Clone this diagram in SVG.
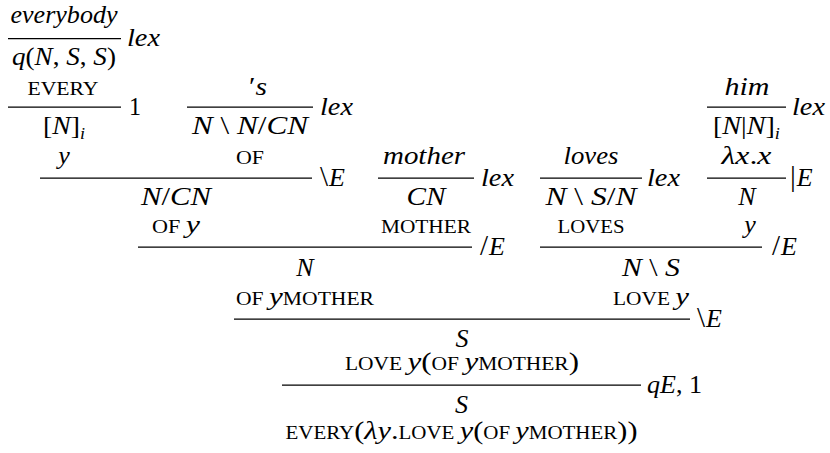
<svg xmlns="http://www.w3.org/2000/svg" width="830" height="453" viewBox="0 0 830 453">
<style>
text{font-family:"Liberation Serif","DejaVu Serif",serif;font-size:26px;font-style:italic;fill:#000;text-anchor:middle}
.l{text-anchor:start}
.u{font-style:normal}
.b{font-style:normal;font-size:29px}
.sc{font-style:normal;font-size:18px}
.s{font-size:17px}
#rules line{stroke:#000;stroke-width:1.25}
</style>
<rect width="830" height="453" fill="#fff"/>
<g id="rules">
<line x1="8" y1="38.5" x2="121" y2="38.5"/>
<text class="l" x="127" y="46" textLength="33" lengthAdjust="spacingAndGlyphs">lex</text>
<line x1="8" y1="107" x2="121" y2="107"/>
<text class="l u" x="129" y="114.5" textLength="12" lengthAdjust="spacingAndGlyphs">1</text>
<line x1="187" y1="107" x2="313" y2="107"/>
<text class="l" x="320" y="114.5" textLength="33" lengthAdjust="spacingAndGlyphs">lex</text>
<line x1="707" y1="107" x2="786" y2="107"/>
<text class="l" x="792" y="114.5" textLength="33" lengthAdjust="spacingAndGlyphs">lex</text>
<line x1="40" y1="178" x2="312" y2="178"/>
<text class="l" x="320" y="186"><tspan class="b">\</tspan><tspan dx="1">E</tspan></text>
<line x1="378" y1="178" x2="474" y2="178"/>
<text class="l" x="481" y="185.5" textLength="33" lengthAdjust="spacingAndGlyphs">lex</text>
<line x1="540" y1="178" x2="642" y2="178"/>
<text class="l" x="647" y="185.5" textLength="33" lengthAdjust="spacingAndGlyphs">lex</text>
<line x1="707" y1="178" x2="786" y2="178"/>
<text class="l" x="790" y="186"><tspan class="b">|</tspan><tspan dx="1">E</tspan></text>
<line x1="138" y1="247" x2="472" y2="247"/>
<text class="l" x="480" y="255"><tspan class="b">/</tspan><tspan dx="1">E</tspan></text>
<line x1="540" y1="247" x2="762" y2="247"/>
<text class="l" x="772" y="255"><tspan class="b">/</tspan><tspan dx="1">E</tspan></text>
<line x1="234" y1="319" x2="690" y2="319"/>
<text class="l" x="697" y="327"><tspan class="b">\</tspan><tspan dx="1">E</tspan></text>
<line x1="282" y1="385" x2="641" y2="385"/>
<text class="l" x="647" y="393" textLength="55" lengthAdjust="spacingAndGlyphs">qE<tspan class="u">, 1</tspan></text>
</g>
<g id="n-everybody"><text x="64" y="23" textLength="107" lengthAdjust="spacingAndGlyphs">everybody</text></g>
<g id="n-q"><text x="64" y="65" textLength="104" lengthAdjust="spacingAndGlyphs">q<tspan class="u">(</tspan>N<tspan class="u">, </tspan>S<tspan class="u">, </tspan>S<tspan class="u">)</tspan></text>
<text x="63" y="95" class="sc" textLength="71" lengthAdjust="spacingAndGlyphs">EVERY</text></g>
<g id="n-Ni"><text x="64" y="134" textLength="42" lengthAdjust="spacingAndGlyphs"><tspan class="u">[</tspan>N<tspan class="u">]</tspan><tspan class="s" dy="5">i</tspan></text>
<text x="64" y="164">y</text></g>
<g id="n-s"><text x="258" y="95" textLength="18" lengthAdjust="spacingAndGlyphs"><tspan class="u">′</tspan>s</text></g>
<g id="n-NNCN"><text x="250" y="134" textLength="116" lengthAdjust="spacingAndGlyphs">N<tspan class="u"> \ </tspan>N<tspan class="u">/</tspan>CN</text>
<text x="250" y="164" class="sc" textLength="28" lengthAdjust="spacingAndGlyphs">OF</text></g>
<g id="n-him"><text x="747" y="95" textLength="45" lengthAdjust="spacingAndGlyphs">him</text></g>
<g id="n-NNi"><text x="746.5" y="134" textLength="67" lengthAdjust="spacingAndGlyphs"><tspan class="u">[</tspan>N<tspan class="u">|</tspan>N<tspan class="u">]</tspan><tspan class="s" dy="5">i</tspan></text>
<text x="746.5" y="164" textLength="50" lengthAdjust="spacingAndGlyphs">λx<tspan class="u">.</tspan>x</text></g>
<g id="n-NCN"><text x="176" y="205" textLength="70" lengthAdjust="spacingAndGlyphs">N<tspan class="u">/</tspan>CN</text>
<text x="176" y="233" textLength="48" lengthAdjust="spacingAndGlyphs"><tspan class="sc">OF </tspan>y</text></g>
<g id="n-mother"><text x="424" y="164" textLength="82" lengthAdjust="spacingAndGlyphs">mother</text></g>
<g id="n-CN"><text x="426" y="205" textLength="39" lengthAdjust="spacingAndGlyphs">CN</text>
<text x="426" y="233" class="sc" textLength="90" lengthAdjust="spacingAndGlyphs">MOTHER</text></g>
<g id="n-loves"><text x="591" y="164" textLength="55" lengthAdjust="spacingAndGlyphs">loves</text></g>
<g id="n-NSN"><text x="591" y="205" textLength="91" lengthAdjust="spacingAndGlyphs">N<tspan class="u"> \ </tspan>S<tspan class="u">/</tspan>N</text>
<text x="591" y="233" class="sc" textLength="67" lengthAdjust="spacingAndGlyphs">LOVES</text></g>
<g id="n-N1"><text x="747" y="205">N</text>
<text x="750" y="233">y</text></g>
<g id="n-N2"><text x="305" y="276">N</text>
<text x="305" y="305" textLength="138" lengthAdjust="spacingAndGlyphs"><tspan class="sc">OF </tspan>y<tspan class="sc">MOTHER</tspan></text></g>
<g id="n-NS"><text x="651" y="276" textLength="58" lengthAdjust="spacingAndGlyphs">N<tspan class="u"> \ </tspan>S</text>
<text x="651" y="305" textLength="76" lengthAdjust="spacingAndGlyphs"><tspan class="sc">LOVE </tspan>y</text></g>
<g id="n-S1"><text x="462" y="347">S</text>
<text x="462" y="370" textLength="234" lengthAdjust="spacingAndGlyphs"><tspan class="sc">LOVE </tspan>y<tspan class="u">(</tspan><tspan class="sc">OF </tspan>y<tspan class="sc">MOTHER</tspan><tspan class="u">)</tspan></text></g>
<g id="n-S2"><text x="461.5" y="413">S</text>
<text x="461.5" y="439" textLength="352" lengthAdjust="spacingAndGlyphs"><tspan class="sc">EVERY</tspan><tspan class="u">(</tspan>λy<tspan class="u">.</tspan><tspan class="sc">LOVE </tspan>y<tspan class="u">(</tspan><tspan class="sc">OF </tspan>y<tspan class="sc">MOTHER</tspan><tspan class="u">))</tspan></text></g>
</svg>
